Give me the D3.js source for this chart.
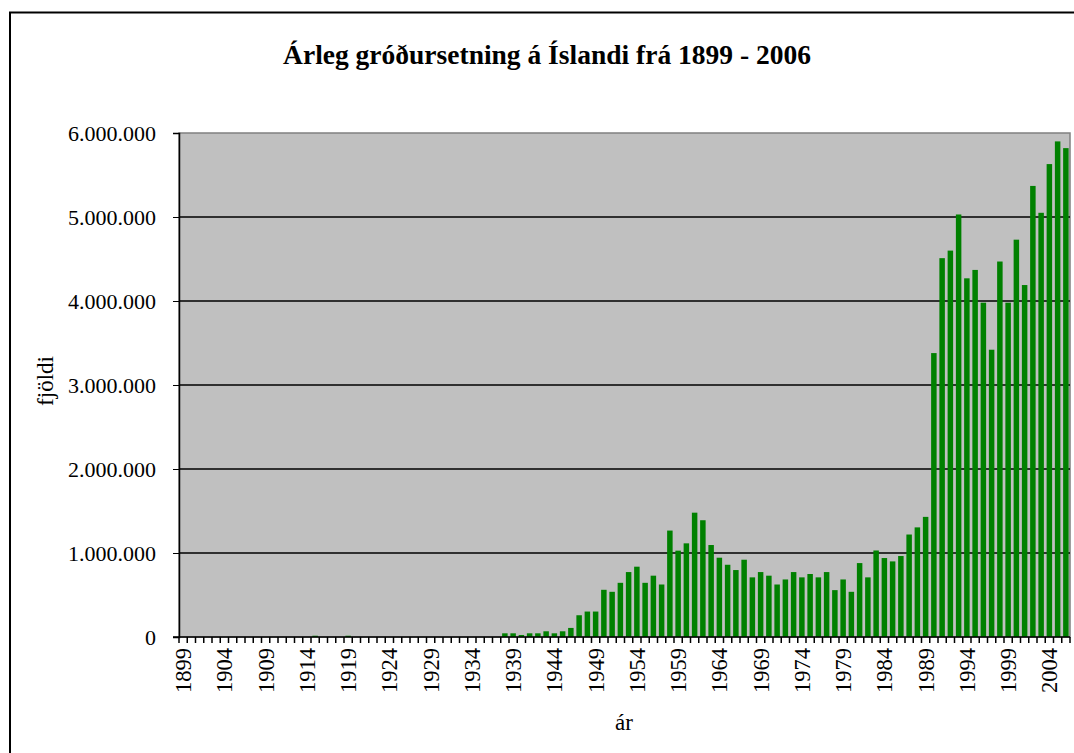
<!DOCTYPE html>
<html>
<head>
<meta charset="utf-8">
<script src="https://cdn.jsdelivr.net/npm/d3@7"></script>
<style>
  body { margin: 0; background: #fff; }
  svg text { font-family: "Liberation Serif", "DejaVu Serif", serif; fill: #000; }
</style>
</head>
<body>
<svg id="chart" width="1074" height="753"></svg>
<script>
// years 1899 - 2006
var years = d3.range(1899, 2007);
var labelYears = d3.range(1899, 2007, 5);
var yTicks = [0, 1000000, 2000000, 3000000, 4000000, 5000000, 6000000];

// planted per year, 1899-1937
var plantedEarly = [
  0, 0, 0, 0, 0, 0, 0, 0, 0, 0, 0, 0, 0, 0, 0, 0,
  15000, 0, 0, 0, 15000,
  0, 0, 0, 0, 0, 0, 0, 0, 0, 0, 0, 0, 0, 0, 0, 0, 0, 0
];
// planted per year, 1938-2006
var plantedLate = [
  44000, 44000, 24000, 44000, 44000, 68000, 44000, 68000, 108000, 259000,
  303000, 303000, 562000, 538000, 645000, 773000, 837000, 645000, 730000, 625000,
  1267000, 1028000, 1115000, 1480000, 1390000, 1095000, 944000, 860000, 797000, 920000,
  710000, 773000, 730000, 625000, 685000, 773000, 710000, 750000, 710000, 773000,
  558000, 685000, 538000, 880000, 710000, 1030000, 940000, 900000, 964000, 1220000,
  1305000, 1430000, 3380000, 4510000, 4600000, 5030000, 4270000, 4370000, 3980000, 3420000,
  4470000, 3980000, 4730000, 4190000, 5370000, 5050000, 5630000, 5900000, 5820000
];
var planted = plantedEarly.concat(plantedLate);

var data = years.map(function(y, i) { return {year: y, value: planted[i]}; });

var margin = {top: 133, right: 4, bottom: 116, left: 179};
var width = 1074 - margin.left - margin.right;
var height = 753 - margin.top - margin.bottom;

var is = d3.formatLocale({decimal: ",", thousands: ".", grouping: [3], currency: ["", " kr."]});
var fmt = is.format(",d");
var serif = "'Liberation Serif', 'DejaVu Serif', serif";

var svg = d3.select("#chart").attr("font-family", serif);

// outer frame
svg.append("rect")
  .attr("x", 10).attr("y", 12.5)
  .attr("width", 1200).attr("height", 900)
  .attr("fill", "none").attr("stroke", "#000").attr("stroke-width", 2);

svg.append("text")
  .attr("x", 547)
  .attr("y", 64)
  .attr("text-anchor", "middle")
  .style("font-size", "27.5px")
  .style("font-weight", "bold")
  .text("Árleg gróðursetning á Íslandi frá 1899 - 2006");

var chart = svg.append("g")
  .attr("transform", "translate(" + margin.left + "," + margin.top + ")");

var x = d3.scaleBand()
  .domain(years)
  .range([0, width])
  .paddingInner(1 / 3)
  .paddingOuter(1 / 6);
var y = d3.scaleLinear().domain([0, 6000000]).range([height, 0]);

chart.append("rect")
  .attr("width", width).attr("height", height)
  .attr("fill", "#c0c0c0")
  .attr("stroke", "#808080").attr("stroke-width", 1.5);

chart.append("g")
  .selectAll("line")
  .data(yTicks.filter(function(d) { return d > 0 && d < 6000000; }))
  .enter().append("line")
  .attr("x1", 0).attr("x2", width)
  .attr("y1", function(d) { return y(d); })
  .attr("y2", function(d) { return y(d); })
  .attr("stroke", "#000").attr("stroke-width", 1.6);

chart.selectAll(".bar")
  .data(data)
  .enter().append("rect")
  .attr("class", "bar")
  .attr("x", function(d) { return x(d.year); })
  .attr("width", x.bandwidth())
  .attr("y", function(d) { return y(d.value); })
  .attr("height", function(d) { return height - y(d.value); })
  .attr("fill", "#008000");

// y axis
var yAxis = d3.axisLeft(y).tickValues(yTicks).tickFormat(fmt).tickSize(6).tickPadding(17);
var ya = chart.append("g").call(yAxis).attr("font-family", serif);
ya.select(".domain").attr("stroke", "#000").attr("stroke-width", 1.5);
ya.selectAll("text").style("font-size", "22px").attr("dy", "0.35em");

// x axis: labels every 5 years, tick marks between every category
var half = (x.step() - x.bandwidth()) / 2;
var xa = chart.append("g").attr("transform", "translate(0," + height + ")");
xa.append("line")
  .attr("x1", -6).attr("x2", width)
  .attr("stroke", "#000").attr("stroke-width", 1.5);
xa.selectAll(".tk")
  .data(years.concat([2007]))
  .enter().append("line")
  .attr("class", "tk")
  .attr("x1", function(d) { return d === 2007 ? width : x(d) - half; })
  .attr("x2", function(d) { return d === 2007 ? width : x(d) - half; })
  .attr("y1", 0).attr("y2", 6)
  .attr("stroke", "#000").attr("stroke-width", 1.5);
xa.selectAll(".lbl")
  .data(labelYears)
  .enter().append("text")
  .attr("class", "lbl")
  .attr("transform", function(d) {
    return "translate(" + (x(d) + x.bandwidth() / 2) + ",11) rotate(-90)";
  })
  .attr("text-anchor", "end")
  .attr("dy", "0.35em")
  .style("font-size", "22.5px")
  .text(function(d) { return d; });

svg.append("text")
  .attr("transform", "translate(45,381) rotate(-90)")
  .attr("text-anchor", "middle")
  .attr("dy", "0.35em")
  .style("font-size", "23px")
  .text("fjöldi");

svg.append("text")
  .attr("x", 624)
  .attr("y", 730)
  .attr("text-anchor", "middle")
  .style("font-size", "23px")
  .text("ár");
</script>
</body>
</html>
